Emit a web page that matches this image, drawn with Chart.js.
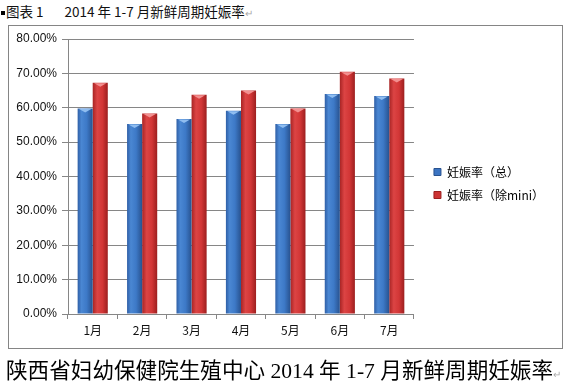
<!DOCTYPE html>
<html>
<head>
<meta charset="utf-8">
<script src="https://cdn.jsdelivr.net/npm/chart.js@4.4.1/dist/chart.umd.min.js"></script>
<style>
    html, body { margin: 0; padding: 0; background: #fff; }
    body { width: 569px; height: 389px; position: relative; overflow: hidden; }
    .frame { position: absolute; left: 8px; top: 25px; width: 553px; height: 322px; border: 1px solid #858585; }
    .title { position: absolute; left: 1px; top: 1px; font: 13.5px "Noto Sans CJK SC", "Liberation Sans", sans-serif; color: #111; white-space: pre; }
    .title .mark { display: inline-block; width: 4px; height: 4px; background: #000; vertical-align: middle; margin-right: 1px; }
    .title .gap { display: inline-block; width: 21px; }
    .caption { position: absolute; left: 6px; top: 353px; font: 21.6px "Liberation Serif", "Noto Sans CJK SC", serif; color: #000; white-space: pre; }
    .pm { color: #aaa; font-size: 10px; }
    #chart-canvas { position: absolute; left: 0; top: 0; }
</style>
</head>
<body>
<div class="title"><span class="mark"></span>图表 1<span class="gap"></span>2014 年 1-7 月新鲜周期妊娠率<span class="pm">↵</span></div>
<div class="frame"></div>
<canvas id="chart-canvas" width="569" height="389"></canvas>
<div class="caption">陕西省妇幼保健院生殖中心 2014 年 1-7 月新鲜周期妊娠率<span class="pm">↵</span></div>

<script>
/* 2014年1-7月 新鲜周期妊娠率 */

const months = ['1月', '2月', '3月', '4月', '5月', '6月', '7月'];
const rateTotal = [0.598, 0.553, 0.567, 0.591, 0.553, 0.640, 0.634];
const rateNoMini = [0.673, 0.583, 0.638, 0.650, 0.598, 0.705, 0.685];
const yTicks = [0, 0.1, 0.2, 0.3, 0.4, 0.5, 0.6, 0.7, 0.8];

const CAT_PCT = 0.61;

// 圆柱感: 每根柱子横向渐变
function barFill(ctx, stops) {
    const chart = ctx.chart;
    const x = chart.scales.x;
    if (!x || ctx.type !== 'data' || !chart.chartArea) return stops[1][1];
    const barW = x.width / months.length * CAT_PCT / 2;
    const center = x.getPixelForValue(ctx.dataIndex);
    const left = ctx.datasetIndex === 0 ? center - barW : center;
    const g = chart.ctx.createLinearGradient(left, 0, left + barW, 0);
    stops.forEach(s => g.addColorStop(s[0], s[1]));
    return g;
}

const blueStops = [[0, '#2f5fa6'], [0.25, '#4a87d3'], [0.6, '#3d79c7'], [1, '#28528f']];
const redStops = [[0, '#a82424'], [0.3, '#dc4444'], [0.65, '#d23636'], [1, '#9c1f1f']];

// 柱顶高光
const capPlugin = {
    id: 'caps',
    afterDatasetsDraw(chart) {
        const c = chart.ctx;
        const caps = ['#8fbdf0', '#f29090'];
        chart.data.datasets.forEach((ds, di) => {
            chart.getDatasetMeta(di).data.forEach(bar => {
                const l = bar.x - bar.width / 2 + 1.5, r = bar.x + bar.width / 2 - 1.5;
                c.save();
                c.fillStyle = caps[di];
                c.beginPath();
                c.moveTo(l, bar.y + 0.5);
                c.lineTo(r, bar.y + 0.5);
                c.lineTo(bar.x, bar.y + 4);
                c.closePath();
                c.fill();
                c.restore();
            });
        });
    }
};

// 图例: 加宽并微调位置
const legendPlace = {
    id: 'legendPlace',
    beforeLayout(chart) {
        const lg = chart.legend;
        if (lg && !lg._wrapped) {
            const fit = lg.fit;
            lg.fit = function () { fit.call(this); this.width += 12; };
            lg._wrapped = true;
        }
    },
    afterLayout(chart) {
        const lg = chart.legend;
        if (!lg) return;
        lg.left += 9;
        lg.right += 9;
        lg.top -= 8;
        lg.bottom -= 8;
    }
};

const ctx = document.getElementById('chart-canvas').getContext('2d');
new Chart(ctx, {
    type: 'bar',
    data: {
        labels: months,
        datasets: [{
            label: '妊娠率（总）',
            data: rateTotal,
            backgroundColor: c => barFill(c, blueStops),
            borderWidth: 0,
        }, {
            label: '妊娠率（除mini）',
            data: rateNoMini,
            backgroundColor: c => barFill(c, redStops),
            borderWidth: 0,
        }]
    },
    options: {
        responsive: false,
        animation: false,
        datasets: { bar: { barPercentage: 1, categoryPercentage: CAT_PCT } },
        layout: { padding: { left: 0, top: 39, right: 12, bottom: 45 } },
        scales: {
            x: {
                afterFit: s => { s.height = 30; },
                grid: { display: true, drawOnChartArea: false, drawTicks: true, tickLength: 5, color: '#868686' },
                border: { color: '#868686' },
                ticks: { color: '#111', padding: 4, font: { family: 'Noto Sans CJK SC', size: 12 } }
            },
            y: {
                min: 0,
                max: 0.8,
                afterFit: s => { s.width = 68; },
                afterBuildTicks: s => { s.ticks = yTicks.map(v => ({ value: v })); },
                grid: { color: '#868686', tickLength: 6 },
                border: { color: '#868686' },
                ticks: {
                    color: '#111',
                    padding: 5,
                    font: { family: 'Liberation Sans', size: 12 },
                    callback: v => (v * 100).toFixed(2) + '%'
                }
            }
        },
        plugins: {
            legend: {
                position: 'right',
                align: 'center',
                labels: {
                    boxWidth: 7,
                    boxHeight: 7,
                    padding: 11,
                    color: '#111',
                    font: { family: 'Noto Sans CJK SC', size: 12 },
                    generateLabels: chart => chart.data.datasets.map((ds, i) => ({
                        text: ds.label,
                        fillStyle: i === 0 ? '#3b74c2' : '#cc3333',
                        strokeStyle: i === 0 ? '#28528f' : '#9c1f1f',
                        lineWidth: 1,
                        datasetIndex: i
                    }))
                }
            },
            tooltip: { enabled: false }
        }
    },
    plugins: [capPlugin, legendPlace]
});
</script>
</body>
</html>
